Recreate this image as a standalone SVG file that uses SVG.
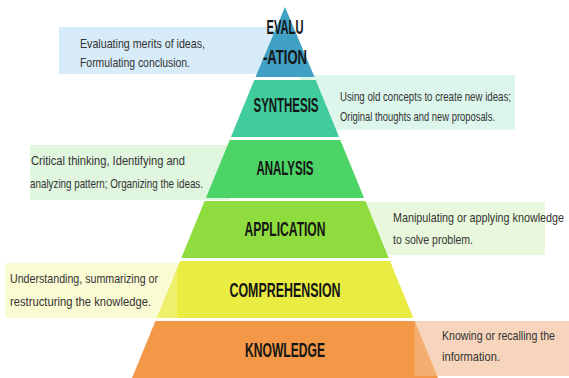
<svg xmlns="http://www.w3.org/2000/svg" width="569" height="378" viewBox="0 0 569 378">
  <style>
    .label { font-family: "Liberation Sans", Arial, sans-serif; font-weight: bold; font-size: 19.5px; fill: #151515; text-anchor: middle; }
    .note { font-family: "Liberation Sans", Arial, sans-serif; font-size: 13px; fill: #333333; }
    .note-end { text-anchor: end; }
    .veil { fill: #ffffff; fill-opacity: 0.22; }
  </style>

  <rect width="569" height="378" fill="#ffffff"/>

  <!-- description panels sit behind the pyramid tiers -->
  <g id="panels">
    <rect x="59" y="27" width="226" height="47" fill="#d7ebf8"/>
    <rect x="300" y="75" width="215" height="55" fill="#ddf6ec"/>
    <rect x="30" y="145" width="200" height="55" fill="#e0f6df"/>
    <rect x="350" y="202" width="195" height="53" fill="#e9f8dc"/>
    <rect x="5" y="263" width="172" height="55" fill="#fbfbd3"/>
    <rect x="400" y="321" width="169" height="55" fill="#f6d5bc"/>
  </g>

  <!-- pyramid tiers -->
  <g id="evaluation">
    <polygon points="285,7 314.5,77 255.5,77" fill="#41a1c5"/>
    <text class="label" x="285" y="34" textLength="37" lengthAdjust="spacingAndGlyphs">EVALU</text>
    <text class="label" x="285" y="64" textLength="44" lengthAdjust="spacingAndGlyphs">-ATION</text>
  </g>
  <g id="synthesis">
    <polygon points="254.3,80 315.7,80 339.1,137 230.9,137" fill="#41cc9c"/>
    <text class="label" x="286" y="112" textLength="65" lengthAdjust="spacingAndGlyphs">SYNTHESIS</text>
  </g>
  <g id="analysis">
    <polygon points="229.7,140 340.3,140 364.1,198 205.9,198" fill="#4dd466"/>
    <text class="label" x="285" y="175" textLength="57" lengthAdjust="spacingAndGlyphs">ANALYSIS</text>
  </g>
  <g id="application">
    <polygon points="204.6,201 365.4,201 388.7,258 181.3,258" fill="#8edc3e"/>
    <text class="label" x="285" y="236" textLength="81" lengthAdjust="spacingAndGlyphs">APPLICATION</text>
  </g>
  <g id="comprehension">
    <polygon points="180,261 390,261 413.3,318 156.7,318" fill="#e9ec43"/>
    <text class="label" x="285" y="297" textLength="111" lengthAdjust="spacingAndGlyphs">COMPREHENSION</text>
  </g>
  <g id="knowledge">
    <polygon points="155.4,321 414.6,321 437.9,378 132.1,378" fill="#f39847"/>
    <text class="label" x="285" y="357" textLength="80" lengthAdjust="spacingAndGlyphs">KNOWLEDGE</text>
  </g>

  <!-- panel edges that run over the lower tiers, slightly washed out -->
  <g id="panel-overlaps">
    <polygon class="veil" points="177,263 177,318 156.7,318"/>
    <polygon class="veil" points="414.6,321 414.6,376 437,376"/>
  </g>

  <!-- description texts -->
  <g id="notes">
    <text class="note" x="80" y="48" textLength="125" lengthAdjust="spacingAndGlyphs">Evaluating merits of ideas,</text>
    <text class="note" x="80" y="67" textLength="110" lengthAdjust="spacingAndGlyphs">Formulating conclusion.</text>

    <text class="note" x="340" y="101" textLength="171" lengthAdjust="spacingAndGlyphs">Using old concepts to create new ideas;</text>
    <text class="note" x="340" y="121" textLength="155" lengthAdjust="spacingAndGlyphs">Original thoughts and new proposals.</text>

    <text class="note" x="31" y="165" textLength="154" lengthAdjust="spacingAndGlyphs">Critical thinking, Identifying and</text>
    <text class="note" x="30" y="188" textLength="173" lengthAdjust="spacingAndGlyphs">analyzing pattern; Organizing the ideas.</text>

    <text class="note note-end" x="564" y="222" textLength="171" lengthAdjust="spacingAndGlyphs">Manipulating or applying knowledge</text>
    <text class="note" x="393" y="244" textLength="80" lengthAdjust="spacingAndGlyphs">to solve problem.</text>

    <text class="note" x="10" y="283" textLength="148" lengthAdjust="spacingAndGlyphs">Understanding, summarizing or</text>
    <text class="note" x="10" y="306" textLength="141" lengthAdjust="spacingAndGlyphs">restructuring the knowledge.</text>

    <text class="note note-end" x="555" y="340" textLength="113" lengthAdjust="spacingAndGlyphs">Knowing or recalling the</text>
    <text class="note" x="442" y="361" textLength="58" lengthAdjust="spacingAndGlyphs">information.</text>
  </g>
</svg>
